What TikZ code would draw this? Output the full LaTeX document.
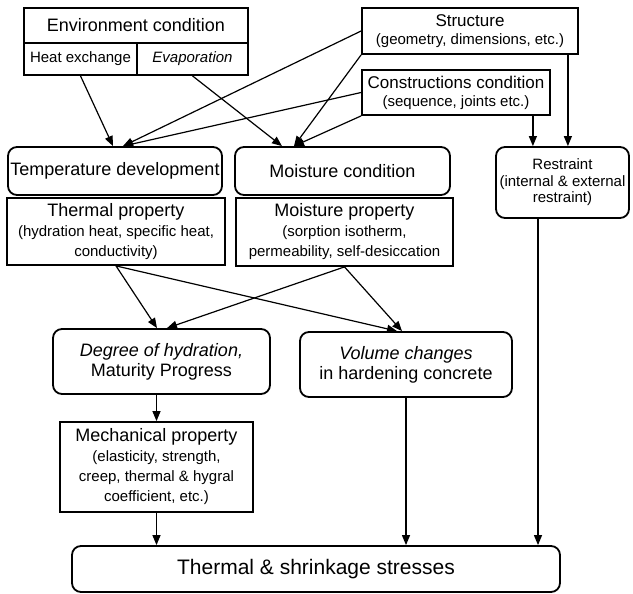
\documentclass[tikz,border=0pt]{standalone}
\usepackage{fontspec}
\setmainfont{Liberation Sans}
\usetikzlibrary{arrows.meta}
\newcommand{\sm}{\fontsize{15}{16.5}\selectfont}

\begin{document}
\begin{tikzpicture}[x=1pt,y=-1pt,
      box/.style={draw,line width=1.8pt,inner sep=0pt,align=center,
      font=\fontsize{18}{20}\selectfont},
      rbox/.style={box,rounded corners=9pt},
      arr/.style={-{Triangle[length=10pt,width=8pt]},line width=1.2pt}]
      \useasboundingbox (0,0) rectangle (633,594);
      \node[box,minimum width=224pt,minimum height=35pt] (env) at (136,25.5) {Environment condition};
      \node[box,minimum width=113pt,minimum height=32pt,font=\sm] (heat) at (80.5,59) {Heat exchange};
      \node[box,minimum width=111pt,minimum height=32pt,font=\sm\itshape] (evap) at (192.5,59) {Evaporation};
      \node[box,minimum width=216pt,minimum height=46pt,font=\fontsize{17}{18}\selectfont] (struct) at (470,31)
        {Structure\\\sm (geometry, dimensions, etc.)};
      \node[box,minimum width=188pt,minimum height=45pt,font=\fontsize{17}{18}\selectfont] (constr) at (456,92.5)
        {Constructions condition\\\sm (sequence, joints etc.)};
      \node[rbox,minimum width=214pt,minimum height=48pt] (temp) at (115,171) {Temperature development};
      \node[box,minimum width=218pt,minimum height=67pt] (thermprop) at (116,231.5)
        {Thermal property\\\sm (hydration heat, specific heat,\\\sm conductivity)};
      \node[rbox,minimum width=215pt,minimum height=48pt] (moist) at (342.5,171) {Moisture condition};
      \node[box,minimum width=217pt,minimum height=68pt] (moistprop) at (344.5,232)
        {Moisture property\\\sm (sorption isotherm,\\\sm permeability, self-desiccation};
      \node[rbox,minimum width=133pt,minimum height=71pt,font=\sm] (restr) at (562.5,182.5)
        {Restraint\\(internal \& external\\restraint)};
      \node[rbox,minimum width=217pt,minimum height=65pt] (degree) at (161.5,361.5)
        {\itshape Degree of hydration,\\Maturity Progress};
      \node[rbox,minimum width=212pt,minimum height=65pt] (volume) at (406,364.5)
        {\itshape Volume changes\\in hardening concrete};
      \node[box,minimum width=193pt,minimum height=90pt] (mech) at (156.5,467)
        {Mechanical property\\\sm (elasticity, strength,\\\sm creep, thermal \& hygral\\\sm coefficient, etc.)};
      \node[rbox,minimum width=488pt,minimum height=46pt,font=\fontsize{21}{23}\selectfont] (stress) at (316,569)
        {Thermal \& shrinkage stresses};
      \coordinate (cr) at ([xshift=-18pt]constr.south east);
      \coordinate (sr) at ([xshift=-11pt]struct.south east);
      \coordinate (rs) at ([xshift=-24.5pt]restr.south);
      \draw[arr] (heat.south) -- ([xshift=-2pt]temp.north);
      \draw[arr] (struct.west) -- ([xshift=8pt]temp.north);
      \draw[arr] (constr.west) -- ([xshift=8pt]temp.north);
      \draw[arr] (evap.south) -- ([xshift=-60.5pt]moist.north);
      \draw[arr] (struct.south west) -- ([xshift=-48.5pt]moist.north);
      \draw[arr] (constr.south west) -- ([xshift=-48.5pt]moist.north);
      \draw[arr] (cr) -- (cr |- restr.north);
      \draw[arr] (sr) -- (sr |- restr.north);
      \draw[arr] (thermprop.south) -- ([xshift=-4.5pt]degree.north);
      \draw[arr] (thermprop.south) -- ([xshift=-9pt]volume.north);
      \draw[arr] (moistprop.south) -- ([xshift=5.5pt]degree.north);
      \draw[arr] (moistprop.south) -- ([xshift=-4pt]volume.north);
      \draw[arr] (mech.north |- degree.south) -- (mech.north);
      \draw[arr] (mech.south) -- (mech.south |- stress.north);
      \draw[arr] (volume.south) -- (volume.south |- stress.north);
      \draw[arr] (rs) -- (rs |- stress.north);
    \end{tikzpicture}
\end{document}
